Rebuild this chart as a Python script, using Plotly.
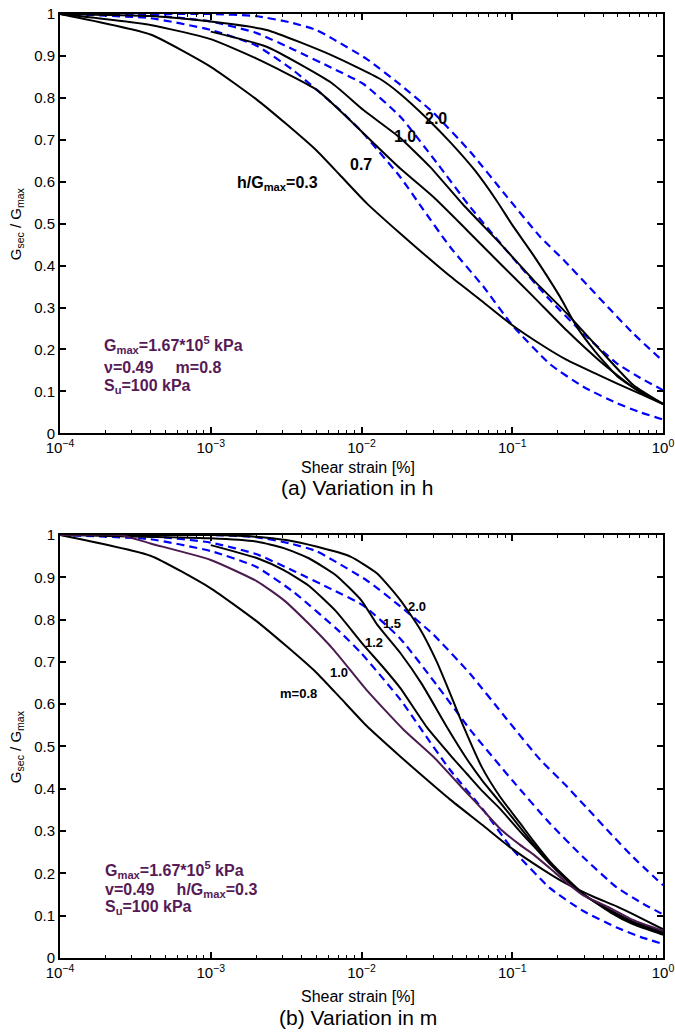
import plotly.graph_objects as go

# ---------------- data (shear strain in %, G_sec/G_max) ----------------
# reference (blue dashed) curves - same in both panels
ref1_strain = [1e-4, 1e-3, 2e-3, 3.36e-3, 5.01e-3, 6.5e-3, 1.08e-2, 1.8e-2, 2.99e-2, 5.25e-2, 9.18e-2, 0.153, 0.224, 0.312, 0.447, 0.635, 1.0]
ref1_G = [1.0, 1.0, 0.995, 0.98, 0.962, 0.94, 0.893, 0.832, 0.765, 0.672, 0.565, 0.469, 0.41, 0.355, 0.295, 0.238, 0.172]

ref2_strain = [1e-4, 3.98e-4, 1e-3, 2e-3, 3.55e-3, 6.31e-3, 1.03e-2, 1.81e-2, 3.16e-2, 5.25e-2, 0.1, 0.178, 0.296, 0.493, 0.708, 1.0]
ref2_G = [1.0, 0.997, 0.982, 0.955, 0.915, 0.872, 0.833, 0.755, 0.645, 0.54, 0.42, 0.318, 0.238, 0.167, 0.132, 0.103]

ref3_strain = [1e-4, 3.98e-4, 1e-3, 2e-3, 3.55e-3, 7.19e-3, 1e-2, 1.8e-2, 2.44e-2, 3.86e-2, 6.43e-2, 0.1, 0.178, 0.296, 0.493, 0.708, 1.0]
ref3_G = [1.0, 0.99, 0.962, 0.925, 0.865, 0.771, 0.72, 0.612, 0.545, 0.445, 0.35, 0.258, 0.165, 0.111, 0.072, 0.05, 0.033]

# (a) variation in h
h20_strain = [1e-4, 3.98e-4, 1e-3, 2.35e-3, 6.31e-3, 1.33e-2, 1.8e-2, 2.7e-2, 3.86e-2, 5.62e-2, 7.94e-2, 0.1, 0.138, 0.207, 0.267, 0.355, 0.501, 0.708, 1.0]
h20_G = [1.0, 0.995, 0.982, 0.962, 0.902, 0.845, 0.81, 0.752, 0.695, 0.628, 0.553, 0.497, 0.425, 0.326, 0.255, 0.195, 0.135, 0.098, 0.07]

h10_strain = [1e-3, 2.35e-3, 6.31e-3, 1.03e-2, 1.8e-2, 2.84e-2, 4.73e-2, 8.3e-2, 0.138, 0.23, 0.382, 0.635, 1.0]
h10_G = [0.958, 0.922, 0.836, 0.771, 0.705, 0.636, 0.545, 0.453, 0.366, 0.286, 0.199, 0.115, 0.07]

h07_strain = [1e-4, 3.98e-4, 1e-3, 2e-3, 5.05e-3, 8.83e-3, 1.26e-2, 1.8e-2, 2.99e-2, 4.99e-2, 8.3e-2, 0.138, 0.23, 0.382, 0.631, 1.0]
h07_G = [1.0, 0.974, 0.94, 0.894, 0.819, 0.739, 0.685, 0.632, 0.564, 0.485, 0.405, 0.326, 0.245, 0.172, 0.11, 0.07]

h03_strain = [1e-4, 3.98e-4, 1e-3, 2e-3, 3.16e-3, 5.01e-3, 7.19e-3, 1.08e-2, 1.8e-2, 2.51e-2, 3.86e-2, 6.31e-2, 9.66e-2, 0.158, 0.23, 0.355, 0.493, 0.708, 1.0]
h03_G = [1.0, 0.951, 0.874, 0.797, 0.738, 0.675, 0.616, 0.549, 0.477, 0.432, 0.375, 0.315, 0.262, 0.21, 0.175, 0.143, 0.119, 0.094, 0.07]

# (b) variation in m
m20_strain = [1e-4, 1e-3, 2e-3, 3.16e-3, 5.09e-3, 8.45e-3, 1.27e-2, 1.81e-2, 2.46e-2, 3.16e-2, 3.98e-2, 4.78e-2, 6.31e-2, 8.34e-2, 0.112, 0.138, 0.178, 0.23, 0.296, 0.447, 0.631, 1.0]
m20_G = [1.0, 1.0, 0.996, 0.988, 0.972, 0.949, 0.909, 0.846, 0.776, 0.70, 0.615, 0.545, 0.45, 0.38, 0.32, 0.277, 0.228, 0.188, 0.152, 0.108, 0.08, 0.055]

m15_strain = [1e-4, 1e-3, 2.04e-3, 3.05e-3, 4.47e-3, 6.76e-3, 1e-2, 1.27e-2, 1.81e-2, 2.51e-2, 3.7e-2, 5.01e-2, 6.31e-2, 8.34e-2, 0.112, 0.138, 0.178, 0.23, 0.296, 0.447, 0.631, 1.0]
m15_G = [1.0, 0.992, 0.984, 0.969, 0.945, 0.905, 0.845, 0.788, 0.721, 0.648, 0.545, 0.47, 0.42, 0.367, 0.31, 0.27, 0.225, 0.186, 0.15, 0.11, 0.083, 0.058]

m12_strain = [1e-3, 2.04e-3, 3.05e-3, 4.47e-3, 6.76e-3, 1.01e-2, 1.41e-2, 1.81e-2, 2.72e-2, 3.98e-2, 5.01e-2, 6.31e-2, 8.34e-2, 0.112, 0.138, 0.178, 0.23, 0.296, 0.447, 0.631, 1.0]
m12_G = [0.976, 0.945, 0.917, 0.88, 0.82, 0.744, 0.685, 0.638, 0.545, 0.475, 0.435, 0.395, 0.352, 0.30, 0.265, 0.222, 0.184, 0.15, 0.113, 0.086, 0.061]

m10_strain = [1e-4, 2.51e-4, 3.98e-4, 1e-3, 2.04e-3, 3.05e-3, 4.47e-3, 6.56e-3, 1.09e-2, 1.91e-2, 3.01e-2, 5.01e-2, 6.31e-2, 8.34e-2, 0.112, 0.138, 0.178, 0.23, 0.296, 0.447, 0.631, 1.0]
m10_G = [1.0, 1.0, 0.98, 0.941, 0.89, 0.846, 0.79, 0.728, 0.632, 0.539, 0.475, 0.39, 0.352, 0.305, 0.268, 0.245, 0.212, 0.178, 0.148, 0.118, 0.09, 0.064]

m08_strain = [1e-4, 3.98e-4, 1e-3, 2e-3, 3.16e-3, 5.01e-3, 7.19e-3, 1.08e-2, 1.8e-2, 2.51e-2, 3.86e-2, 6.31e-2, 9.66e-2, 0.158, 0.23, 0.355, 0.493, 0.708, 1.0]
m08_G = [1.0, 0.951, 0.874, 0.797, 0.738, 0.675, 0.616, 0.549, 0.477, 0.432, 0.375, 0.315, 0.262, 0.21, 0.175, 0.143, 0.122, 0.095, 0.068]

# axis ticks
x_tickvals = [1e-4, 1e-3, 1e-2, 1e-1, 1.0]
x_ticktext = ["10<sup>\u22124</sup>", "10<sup>\u22123</sup>", "10<sup>\u22122</sup>", "10<sup>\u22121</sup>", "10<sup>0</sup>"]
y_tickvals = [0, 0.1, 0.2, 0.3, 0.4, 0.5, 0.6, 0.7, 0.8, 0.9, 1.0]
y_ticktext = ["0", "0.1", "0.2", "0.3", "0.4", "0.5", "0.6", "0.7", "0.8", "0.9", "1"]

# ---------------- figure ----------------
FONT = "Liberation Sans, Arial, Helvetica, sans-serif"
BLUE = "#0000ff"
PURPLE_LINE = "#4b1b4f"
PURPLE_TEXT = "#561a56"
DASH = "8px,5px"

fig = go.Figure()


def add_line(x, y, color, xa, ya, dash=None, width=2.0):
    line = dict(color=color, width=width, shape="spline", smoothing=0.5)
    if dash:
        line["dash"] = dash
    fig.add_trace(go.Scatter(x=x, y=y, mode="lines", xaxis=xa, yaxis=ya,
                             showlegend=False, line=line, hoverinfo="skip"))


# panel (a)
for xs, ys in [(ref1_strain, ref1_G), (ref2_strain, ref2_G), (ref3_strain, ref3_G)]:
    add_line(xs, ys, BLUE, "x", "y", dash=DASH, width=2.2)
for xs, ys in [(h20_strain, h20_G), (h10_strain, h10_G), (h07_strain, h07_G), (h03_strain, h03_G)]:
    add_line(xs, ys, "black", "x", "y")

# panel (b)
for xs, ys in [(ref1_strain, ref1_G), (ref2_strain, ref2_G), (ref3_strain, ref3_G)]:
    add_line(xs, ys, BLUE, "x2", "y2", dash=DASH, width=2.2)
for xs, ys in [(m20_strain, m20_G), (m15_strain, m15_G), (m12_strain, m12_G), (m08_strain, m08_G)]:
    add_line(xs, ys, "black", "x2", "y2")
add_line(m10_strain, m10_G, PURPLE_LINE, "x2", "y2")

minor_vals = [k * 10.0 ** e for e in range(-4, 0) for k in range(2, 10)]

xaxis_style = dict(
    type="log", range=[-4, 0], tickmode="array", tickvals=x_tickvals, ticktext=x_ticktext,
    showline=True, linecolor="black", linewidth=2, mirror="ticks",
    ticks="inside", ticklen=6, tickwidth=1.5, tickcolor="black",
    minor=dict(tickmode="array", tickvals=minor_vals, ticks="inside", ticklen=3,
               tickwidth=1.2, tickcolor="black", showgrid=False),
    showgrid=False, zeroline=False, automargin=False,
    tickfont=dict(family=FONT, size=15, color="black"),
)
yaxis_style = dict(
    range=[0, 1], tickmode="array", tickvals=y_tickvals, ticktext=y_ticktext,
    showline=True, linecolor="black", linewidth=2, mirror="ticks",
    ticks="inside", ticklen=6, tickwidth=1.5, tickcolor="black",
    showgrid=False, zeroline=False, automargin=False,
    tickfont=dict(family=FONT, size=15, color="black"),
)

fig.update_layout(
    width=675, height=1032,
    margin=dict(l=60, r=12, t=14, b=74, autoexpand=False),
    paper_bgcolor="white", plot_bgcolor="white",
    xaxis=dict(xaxis_style, anchor="y"),
    yaxis=dict(yaxis_style, domain=[0.5558, 1.0], anchor="x"),
    xaxis2=dict(xaxis_style, anchor="y2"),
    yaxis2=dict(yaxis_style, domain=[0.0, 0.4481], anchor="x2"),
    font=dict(family=FONT, color="black"),
)

ann = []


def txt(text, x, y, xref, yref, size, color="black", xanchor="center", yanchor="middle", angle=0):
    ann.append(dict(text=text, x=x, y=y, xref=xref, yref=yref, showarrow=False,
                    xanchor=xanchor, yanchor=yanchor, textangle=angle,
                    font=dict(family=FONT, size=size, color=color)))


# curve labels panel (a)  (x given as log10 of strain)
txt("<b>2.0</b>", -1.506, 0.750, "x", "y", 16)
txt("<b>1.0</b>", -1.711, 0.707, "x", "y", 16)
txt("<b>0.7</b>", -2.003, 0.640, "x", "y", 16)
txt("<b>h/G<sub>max</sub>=0.3</b>", -2.839, 0.595, "x", "y", 16, xanchor="left")

# curve labels panel (b)
txt("<b>2.0</b>", -1.629, 0.830, "x2", "y2", 13)
txt("<b>1.5</b>", -1.795, 0.790, "x2", "y2", 13)
txt("<b>1.2</b>", -1.914, 0.745, "x2", "y2", 13)
txt("<b>1.0</b>", -2.146, 0.674, "x2", "y2", 13)
txt("<b>m=0.8</b>", -2.417, 0.625, "x2", "y2", 13)

# parameter blocks
sp = "\u00a0" * 5
txt("<b>G<sub>max</sub>=1.67*10<sup>5</sup> kPa</b>", -3.721, 0.210, "x", "y", 16, PURPLE_TEXT, xanchor="left")
txt("<b>\u03bd=0.49" + sp + "m=0.8</b>", -3.721, 0.157, "x", "y", 16, PURPLE_TEXT, xanchor="left")
txt("<b>S<sub>u</sub>=100 kPa</b>", -3.721, 0.112, "x", "y", 16, PURPLE_TEXT, xanchor="left")

txt("<b>G<sub>max</sub>=1.67*10<sup>5</sup> kPa</b>", -3.715, 0.208, "x2", "y2", 16, PURPLE_TEXT, xanchor="left")
txt("<b>v=0.49" + sp + "h/G<sub>max</sub>=0.3</b>", -3.715, 0.159, "x2", "y2", 16, PURPLE_TEXT, xanchor="left")
txt("<b>S<sub>u</sub>=100 kPa</b>", -3.715, 0.120, "x2", "y2", 16, PURPLE_TEXT, xanchor="left")

# axis titles and captions
ytitle = "G<sub>sec</sub> / G<sub>max</sub>"
txt(ytitle, -0.072, 0.7779, "paper", "paper", 15, angle=-90)
txt(ytitle, -0.072, 0.2240, "paper", "paper", 15, angle=-90)
txt("Shear strain [%]", 0.494, 0.5201, "paper", "paper", 16)
txt("(a) Variation in h", 0.494, 0.4979, "paper", "paper", 21)
txt("Shear strain [%]", 0.494, -0.0403, "paper", "paper", 16)
txt("(b) Variation in m", 0.494, -0.0625, "paper", "paper", 21)

fig.update_layout(annotations=ann)

fig.write_html("out.html")
